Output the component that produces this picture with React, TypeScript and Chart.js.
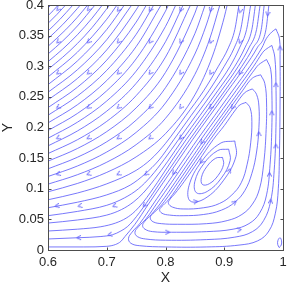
import React, { useEffect, useRef } from 'react';
import { Chart, registerables } from 'chart.js';

Chart.register(...registerables);

type Pt = [number, number];

const xTickValues = [0.6, 0.7, 0.8, 0.9, 1];
const xTickLabels = ['0.6', '0.7', '0.8', '0.9', '1'];
const yTickValues = [0, 0.05, 0.1, 0.15, 0.2, 0.25, 0.3, 0.35, 0.4];
const yTickLabels = ['0', '0.05', '0.1', '0.15', '0.2', '0.25', '0.3', '0.35', '0.4'];

// Through-flow streamlines: enter at the top edge, leave at the left edge
const flow00: Pt[] = [[0.6, 0.395], [0.605, 0.4]];
const flow01: Pt[] = [[0.6, 0.3825], [0.609, 0.391], [0.6175, 0.4]];
const flow02: Pt[] = [[0.6, 0.37], [0.615, 0.3844], [0.63, 0.4]];
const flow03: Pt[] = [[0.6, 0.3575], [0.62, 0.3763], [0.6425, 0.4]];
const flow04: Pt[] = [[0.6, 0.345], [0.625, 0.368], [0.65, 0.3943], [0.655, 0.4]];
const flow05: Pt[] = [[0.6, 0.3325], [0.63, 0.3595], [0.65, 0.38], [0.6675, 0.4]];
const flow06: Pt[] = [[0.6, 0.32], [0.625, 0.3413], [0.65, 0.3657], [0.68, 0.4]];
const flow07: Pt[] = [[0.6, 0.3075], [0.625, 0.328], [0.65, 0.3514], [0.675, 0.3785], [0.6925, 0.4]];
const flow08: Pt[] = [[0.6, 0.295], [0.625, 0.3147], [0.65, 0.3371], [0.675, 0.3631], [0.705, 0.4]];
const flow09: Pt[] = [[0.6, 0.2825], [0.65, 0.3229], [0.7, 0.3767], [0.7175, 0.4]];
const flow10: Pt[] = [[0.6, 0.27], [0.65, 0.3086], [0.7, 0.36], [0.73, 0.4]];
const flow11: Pt[] = [[0.6, 0.2575], [0.65, 0.2943], [0.7, 0.3433], [0.7425, 0.4]];
const flow12: Pt[] = [[0.6, 0.245], [0.65, 0.28], [0.7, 0.3267], [0.75, 0.392], [0.755, 0.4]];
const flow13: Pt[] = [[0.6, 0.2325], [0.65, 0.2657], [0.7, 0.31], [0.75, 0.372], [0.7675, 0.4]];
const flow14: Pt[] = [[0.6, 0.22], [0.65, 0.2514], [0.7, 0.2933], [0.75, 0.352], [0.78, 0.4]];
const flow15: Pt[] = [[0.6, 0.2075], [0.65, 0.2371], [0.7, 0.2767], [0.75, 0.332], [0.7925, 0.4]];
const flow16: Pt[] = [[0.6, 0.195], [0.65, 0.2229], [0.7, 0.26], [0.75, 0.312], [0.8, 0.39], [0.805, 0.4]];
const flow17: Pt[] = [[0.6, 0.1825], [0.65, 0.2086], [0.7, 0.2433], [0.75, 0.292], [0.8, 0.365], [0.8175, 0.4]];
const flow18: Pt[] = [[0.6, 0.17], [0.65, 0.1943], [0.7, 0.2267], [0.75, 0.272], [0.8, 0.34], [0.83, 0.4]];
const flow19: Pt[] = [[0.6, 0.1575], [0.65, 0.18], [0.7, 0.21], [0.75, 0.252], [0.8, 0.315], [0.8425, 0.4]];
const flow20: Pt[] = [[0.6, 0.145], [0.65, 0.1657], [0.7, 0.1933], [0.75, 0.232], [0.8, 0.29], [0.85, 0.3867], [0.855, 0.4]];
const flow21: Pt[] = [[0.6, 0.1325], [0.65, 0.1514], [0.7, 0.1767], [0.75, 0.212], [0.8, 0.265], [0.85, 0.3533], [0.8675, 0.4]];
const flow22: Pt[] = [[0.6, 0.12], [0.65, 0.1371], [0.7, 0.16], [0.75, 0.192], [0.8, 0.24], [0.85, 0.32], [0.87, 0.369], [0.88, 0.4]];
const flow23: Pt[] = [[0.6, 0.1075], [0.65, 0.1229], [0.7, 0.1433], [0.75, 0.172], [0.8, 0.215], [0.85, 0.2867], [0.875, 0.344], [0.8925, 0.4]];
const flow24: Pt[] = [[0.6, 0.095], [0.65, 0.1086], [0.7, 0.1267], [0.75, 0.152], [0.8, 0.19], [0.85, 0.2533], [0.88, 0.3167], [0.9, 0.38], [0.905, 0.4]];
const flow25: Pt[] = [[0.6, 0.082], [0.65, 0.093], [0.7, 0.108], [0.75, 0.13], [0.775, 0.148], [0.8, 0.174], [0.835, 0.22], [0.865, 0.26], [0.89, 0.3], [0.907, 0.33], [0.918, 0.36], [0.925, 0.4]];
const flow26: Pt[] = [[0.6, 0.069], [0.65, 0.078], [0.7, 0.09], [0.74, 0.106], [0.765, 0.124], [0.789, 0.147], [0.814, 0.18], [0.844, 0.22], [0.874, 0.26], [0.9, 0.3], [0.917, 0.33], [0.928, 0.36], [0.935, 0.4]];
const flow27: Pt[] = [[0.6, 0.056], [0.65, 0.063], [0.7, 0.073], [0.73, 0.085], [0.754, 0.1], [0.775, 0.12], [0.798, 0.148], [0.822, 0.18], [0.852, 0.22], [0.882, 0.26], [0.91, 0.3], [0.926, 0.33], [0.938, 0.36], [0.945, 0.4]];
const flow28: Pt[] = [[0.6, 0.044], [0.65, 0.049], [0.7, 0.057], [0.725, 0.066], [0.745, 0.078], [0.762, 0.093], [0.781, 0.115], [0.804, 0.145], [0.829, 0.18], [0.859, 0.22], [0.889, 0.26], [0.918, 0.3], [0.935, 0.33], [0.947, 0.36], [0.953, 0.4]];
const flow29: Pt[] = [[0.6, 0.031], [0.65, 0.034], [0.69, 0.038], [0.715, 0.044], [0.733, 0.052], [0.748, 0.063], [0.762, 0.078], [0.786, 0.11], [0.81, 0.145], [0.835, 0.18], [0.865, 0.22], [0.895, 0.26], [0.924, 0.3], [0.942, 0.33], [0.955, 0.36], [0.961, 0.4]];
const flow30: Pt[] = [[0.6, 0.018], [0.65, 0.02], [0.69, 0.022], [0.71, 0.025], [0.724, 0.031], [0.735, 0.038], [0.745, 0.048], [0.767, 0.076], [0.791, 0.11], [0.816, 0.145], [0.841, 0.18], [0.871, 0.22], [0.901, 0.26], [0.93, 0.3], [0.949, 0.33], [0.963, 0.36], [0.968, 0.4]];
const flow31: Pt[] = [[0.6, 0.005], [0.66, 0.005], [0.7, 0.006], [0.715, 0.009], [0.724, 0.014], [0.731, 0.022], [0.748, 0.042], [0.771, 0.075], [0.796, 0.11], [0.821, 0.145], [0.846, 0.18], [0.876, 0.22], [0.906, 0.26], [0.936, 0.3], [0.956, 0.33], [0.971, 0.36], [0.976, 0.4]];

// Closed streamlines of the corner vortex (outer to inner)
const loop1: Pt[] = [[0.988, 0.361], [0.981, 0.356], [0.9715, 0.345], [0.964, 0.33], [0.944, 0.3], [0.914, 0.26], [0.884, 0.22], [0.854, 0.18], [0.829, 0.145], [0.804, 0.11], [0.779, 0.075], [0.756, 0.043], [0.743, 0.029], [0.737, 0.019], [0.741, 0.011], [0.756, 0.007], [0.8, 0.005], [0.87, 0.005], [0.925, 0.008], [0.957, 0.015], [0.976, 0.031], [0.987, 0.06], [0.992, 0.1], [0.994, 0.16], [0.995, 0.24], [0.995, 0.31], [0.994, 0.345], [0.988, 0.361]];
const loop2: Pt[] = [[0.981, 0.334], [0.97, 0.327], [0.965, 0.322], [0.95, 0.3], [0.92, 0.26], [0.89, 0.22], [0.86, 0.18], [0.835, 0.145], [0.81, 0.11], [0.786, 0.077], [0.767, 0.051], [0.754, 0.038], [0.748, 0.029], [0.752, 0.022], [0.766, 0.018], [0.8, 0.016], [0.87, 0.017], [0.918, 0.021], [0.948, 0.03], [0.967, 0.048], [0.979, 0.08], [0.985, 0.13], [0.988, 0.2], [0.988, 0.27], [0.986, 0.315], [0.981, 0.334]];
const loop3: Pt[] = [[0.972, 0.311], [0.962, 0.305], [0.956, 0.3], [0.926, 0.26], [0.896, 0.22], [0.866, 0.18], [0.841, 0.145], [0.816, 0.11], [0.792, 0.077], [0.776, 0.058], [0.765, 0.047], [0.761, 0.04], [0.765, 0.034], [0.778, 0.03], [0.81, 0.029], [0.87, 0.03], [0.915, 0.034], [0.942, 0.043], [0.96, 0.06], [0.972, 0.09], [0.978, 0.14], [0.981, 0.2], [0.981, 0.26], [0.979, 0.295], [0.972, 0.311]];
const loop4: Pt[] = [[0.962, 0.286], [0.952, 0.283], [0.944, 0.277], [0.931, 0.26], [0.901, 0.22], [0.871, 0.18], [0.846, 0.145], [0.821, 0.11], [0.798, 0.079], [0.785, 0.065], [0.777, 0.058], [0.774, 0.052], [0.779, 0.046], [0.793, 0.043], [0.82, 0.042], [0.87, 0.043], [0.905, 0.048], [0.93, 0.058], [0.948, 0.075], [0.96, 0.1], [0.967, 0.14], [0.971, 0.19], [0.972, 0.24], [0.969, 0.272], [0.962, 0.286]];
const loop5: Pt[] = [[0.948, 0.263], [0.938, 0.259], [0.931, 0.253], [0.916, 0.233], [0.906, 0.22], [0.876, 0.18], [0.851, 0.145], [0.826, 0.11], [0.807, 0.084], [0.796, 0.073], [0.79, 0.066], [0.794, 0.06], [0.807, 0.057], [0.83, 0.056], [0.865, 0.058], [0.895, 0.065], [0.918, 0.078], [0.935, 0.097], [0.947, 0.125], [0.955, 0.16], [0.959, 0.2], [0.959, 0.235], [0.955, 0.254], [0.948, 0.263]];
const loop6: Pt[] = [[0.937, 0.241], [0.927, 0.237], [0.92, 0.23], [0.9, 0.203], [0.881, 0.18], [0.856, 0.145], [0.832, 0.112], [0.816, 0.092], [0.807, 0.082], [0.805, 0.076], [0.812, 0.07], [0.83, 0.067], [0.865, 0.069], [0.892, 0.076], [0.913, 0.09], [0.929, 0.11], [0.939, 0.14], [0.945, 0.175], [0.947, 0.21], [0.944, 0.232], [0.937, 0.241]];
const loop7: Pt[] = [[0.918, 0.178], [0.893, 0.174], [0.861, 0.144], [0.84, 0.105], [0.842, 0.08], [0.867, 0.084], [0.899, 0.114], [0.92, 0.153], [0.918, 0.178]];
const loop8: Pt[] = [[0.9075, 0.1646], [0.8888, 0.1623], [0.865, 0.1406], [0.85, 0.1121], [0.8526, 0.0935], [0.8712, 0.0957], [0.895, 0.1174], [0.91, 0.1459], [0.9075, 0.1646]];
const loop9: Pt[] = [[0.8971, 0.1511], [0.8854, 0.1498], [0.8705, 0.1363], [0.8612, 0.1185], [0.8629, 0.1069], [0.8746, 0.1082], [0.8895, 0.1217], [0.8988, 0.1395], [0.8971, 0.1511]];
const cornerEddy: Pt[] = [[0.9935, 0.004], [0.997, 0.008], [0.9975, 0.015], [0.995, 0.02], [0.9915, 0.016], [0.991, 0.009], [0.9935, 0.004]];

// Arrow heads: position and travel direction (screen degrees, 0 = right, 90 = down)
const arrowX = [
  0.617, 0.669, 0.72, 0.774, 0.826, 0.877, 0.927, 0.974,
  0.617, 0.669, 0.72, 0.774, 0.826, 0.877, 0.927, 0.995,
  0.617, 0.669, 0.72, 0.774, 0.826, 0.877, 0.927, 0.988,
  0.617, 0.669, 0.72, 0.774, 0.826, 0.877, 0.914, 0.981,
  0.617, 0.669, 0.72, 0.774, 0.826, 0.862, 0.959, 0.988,
  0.617, 0.669, 0.72, 0.767, 0.814, 0.861, 0.909, 0.977,
  0.615, 0.654, 0.713, 0.764, 0.852, 0.918, 0.979,
  0.652, 0.705, 0.804, 0.926,
];
const arrowY = [
  0.393, 0.393, 0.392, 0.392, 0.392, 0.392, 0.39, 0.385,
  0.34, 0.34, 0.34, 0.34, 0.34, 0.34, 0.34, 0.33,
  0.289, 0.289, 0.289, 0.289, 0.289, 0.289, 0.289, 0.27,
  0.233, 0.233, 0.233, 0.233, 0.233, 0.233, 0.233, 0.224,
  0.183, 0.183, 0.183, 0.183, 0.183, 0.176, 0.19, 0.17,
  0.124, 0.124, 0.124, 0.124, 0.126, 0.144, 0.13, 0.124,
  0.072, 0.072, 0.072, 0.073, 0.079, 0.078, 0.08,
  0.02, 0.025, 0.029, 0.033,
];
const arrowDir = [
  134, 130, 125, 120, 114, 107, 103, 97,
  138, 134, 129, 124, 117, 112, 112, -90,
  143, 139, 134, 128, 121, 120, 127, -90,
  149, 145, 140, 134, 128, 127, 127, -90,
  154, 151, 147, 143, 126, 127, -92, -90,
  162, 160, 152, 139, 126, 128, -65, -90,
  170, 168, 158, 130, -8, -40, -85,
  177, 165, 0, -8,
];

const throughLines: Pt[][] = [
  flow00, flow01, flow02, flow03, flow04, flow05, flow06, flow07, flow08, flow09,
  flow10, flow11, flow12, flow13, flow14, flow15, flow16, flow17, flow18, flow19,
  flow20, flow21, flow22, flow23, flow24, flow25, flow26, flow27, flow28, flow29,
  flow30, flow31,
];
const closedLines: Pt[][] = [loop1, loop2, loop3, loop4, loop5, loop6, loop7, loop8, loop9, cornerEddy];

const LINE_COLOR = 'rgb(85,85,250)';
const TEXT_COLOR = '#262626';
const FONT_FAMILY = "'Liberation Sans', Arial, Helvetica, sans-serif";

function makeArrowImage(): HTMLCanvasElement {
  const c = document.createElement('canvas');
  c.width = 9;
  c.height = 9;
  const g = c.getContext('2d')!;
  g.strokeStyle = LINE_COLOR;
  g.lineWidth = 0.9;
  g.beginPath();
  g.moveTo(2, 2.3);
  g.lineTo(6.3, 4.5);
  g.lineTo(2, 6.7);
  g.stroke();
  return c;
}

const boxPlugin = {
  id: 'matlabBox',
  afterDatasetsDraw(chart: any) {
    const { ctx, chartArea, scales } = chart;
    const l = Math.round(chartArea.left) + 0.5;
    const r = Math.round(chartArea.right) + 0.5;
    const t = Math.round(chartArea.top) + 0.5;
    const b = Math.round(chartArea.bottom) + 0.5;
    ctx.save();
    ctx.strokeStyle = '#4d4d4d';
    ctx.lineWidth = 1;
    ctx.strokeRect(l, t, r - l, b - t);
    const tl = 3;
    ctx.beginPath();
    for (const v of xTickValues) {
      const px = Math.round(scales.x.getPixelForValue(v)) + 0.5;
      ctx.moveTo(px, b);
      ctx.lineTo(px, b - tl);
      ctx.moveTo(px, t);
      ctx.lineTo(px, t + tl);
    }
    for (const v of yTickValues) {
      const py = Math.round(scales.y.getPixelForValue(v)) + 0.5;
      ctx.moveTo(l, py);
      ctx.lineTo(l + tl, py);
      ctx.moveTo(r, py);
      ctx.lineTo(r - tl, py);
    }
    ctx.stroke();
    ctx.restore();
  },
};

export default function App() {
  const canvasRef = useRef<HTMLCanvasElement | null>(null);

  useEffect(() => {
    if (!canvasRef.current) return;
    const arrowImg = makeArrowImage();
    const toXY = (pts: Pt[]) => pts.map(([x, y]) => ({ x, y }));

    const datasets: any[] = [];
    throughLines.forEach((pts) => {
      datasets.push({
        data: toXY(pts),
        showLine: true,
        pointRadius: 0,
        borderColor: LINE_COLOR,
        borderWidth: 0.8,
        cubicInterpolationMode: 'monotone',
        fill: false,
      });
    });
    closedLines.forEach((pts) => {
      datasets.push({
        data: toXY(pts),
        showLine: true,
        pointRadius: 0,
        borderColor: LINE_COLOR,
        borderWidth: 0.8,
        tension: 0.4,
        fill: false,
      });
    });
    datasets.push({
      data: arrowX.map((x, i) => ({ x, y: arrowY[i] })),
      showLine: false,
      pointStyle: arrowImg,
      pointRadius: 4,
      pointRotation: arrowDir,
    });

    const chart = new Chart(canvasRef.current, {
      type: 'scatter',
      data: { datasets },
      plugins: [boxPlugin],
      options: {
        animation: false,
        responsive: false,
        events: [],
        layout: { padding: { top: 5, right: 3, left: 0, bottom: 0 } },
        plugins: { legend: { display: false }, tooltip: { enabled: false } },
        scales: {
          x: {
            type: 'linear',
            min: 0.6,
            max: 1,
            afterBuildTicks: (s: any) => {
              s.ticks = xTickValues.map((v) => ({ value: v }));
            },
            afterFit: (s: any) => {
              s.height = 38;
              s.paddingLeft = 0;
              s.paddingRight = 0;
            },
            grid: { display: false, drawTicks: false },
            border: { display: false },
            ticks: {
              padding: 5,
              color: TEXT_COLOR,
              font: { family: FONT_FAMILY, size: 13 },
              maxRotation: 0,
              autoSkip: false,
              callback: (_v: any, i: number) => xTickLabels[i],
            },
            title: {
              display: true,
              text: 'X',
              color: TEXT_COLOR,
              font: { family: FONT_FAMILY, size: 14 },
              padding: { top: 0, bottom: 1 },
            },
          },
          y: {
            type: 'linear',
            min: 0,
            max: 0.4,
            afterBuildTicks: (s: any) => {
              s.ticks = yTickValues.map((v) => ({ value: v }));
            },
            afterFit: (s: any) => {
              s.width = 48;
              s.paddingTop = 0;
              s.paddingBottom = 0;
            },
            grid: { display: false, drawTicks: false },
            border: { display: false },
            ticks: {
              padding: 4,
              color: TEXT_COLOR,
              font: { family: FONT_FAMILY, size: 13 },
              autoSkip: false,
              callback: (_v: any, i: number) => yTickLabels[i],
            },
            title: {
              display: true,
              text: 'Y',
              color: TEXT_COLOR,
              font: { family: FONT_FAMILY, size: 14 },
              padding: { top: 0, bottom: 0 },
            },
          },
        },
      },
    } as any);

    return () => chart.destroy();
  }, []);

  return (
    <div style={{ position: 'fixed', left: 0, top: 0, width: 288, height: 288, background: '#fff' }}>
      <canvas ref={canvasRef} width={288} height={288} style={{ display: 'block' }} />
    </div>
  );
}
